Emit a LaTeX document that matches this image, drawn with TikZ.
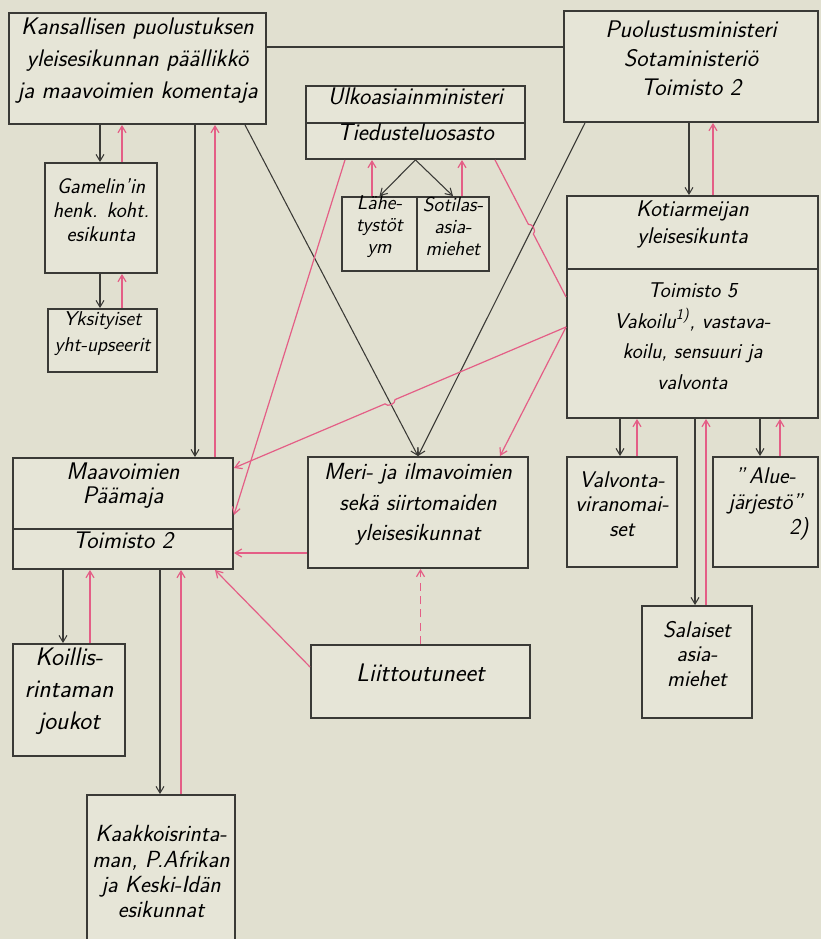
\documentclass[tikz,border=0pt]{standalone}
\usepackage{fontspec}
\usetikzlibrary{arrows.meta}
\usetikzlibrary{calc}
\usetikzlibrary{fit}
\definecolor{paper}{RGB}{225,224,208}
\definecolor{card}{RGB}{230,229,215}
\definecolor{ink}{RGB}{58,58,54}
\definecolor{rose}{RGB}{228,94,134}

\begin{document}
\begin{tikzpicture}[x=0.75pt,y=0.75pt,yscale=-1,xscale=1,
  box/.style={draw=ink, line width=1.4pt, fill=card, inner sep=0pt, align=center},
  fs/.style 2 args={font=\sffamily\itshape\fontsize{#1}{#2}\selectfont},
  down/.style={draw=ink, line width=0.8pt, -{Straight Barb[length=5pt,width=6pt]}},
  up/.style={draw=rose, line width=0.9pt, -{Straight Barb[length=5pt,width=6pt]}},
  link/.style={draw=ink, line width=0.8pt},
  rlink/.style={draw=rose, line width=0.9pt}]

\fill[paper] (0,0) rectangle (821,939);
\useasboundingbox (0,0) rectangle (821,939);

%Boxes
\node[box, fs={18}{24}, fit={(9,13) (266,124)}] (kans) {Kansallisen puolustuksen\\yleisesikunnan päällikkö\\ja maavoimien komentaja};
\node[box, fs={18}{22}, fit={(564,11) (818,122)}] (puol) {Puolustusministeri\\Sotaministeriö\\Toimisto 2};
\node[box, fs={18}{20}, fit={(306,86) (525,123)}] (ulk) {Ulkoasiainministeri};
\node[box, fs={18}{20}, fit={(306,123) (525,159)}] (tied) {Tiedusteluosasto};
\node[box, fs={15}{16.5}, fit={(342,197) (417,271)}] (lah) {Lähe-\\tystöt\\ym};
\node[box, fs={15}{16.5}, fit={(417,197) (489,271)}] (sot) {Sotilas-\\asia-\\miehet};
\node[box, fs={16}{18}, fit={(45,163) (157,273)}] (gam) {Gamelin'in\\henk. koht.\\esikunta};
\node[box, fs={15}{19}, fit={(48,309) (157,372)}] (yks) {Yksityiset\\yht-upseerit};
\node[box, fs={17}{20}, fit={(567,196) (818,269)}] (koti) {Kotiarmeijan\\yleisesikunta};
\node[box, fs={16}{23}, fit={(567,269) (818,418)}] (toim5) {Toimisto 5\\Vakoilu\textsuperscript{1)}, vastava-\\koilu, sensuuri ja\\valvonta};
\node[box, fs={18}{18}, fit={(13,458) (233,529)}] (maa) {Maavoimien\\Päämaja};
\node[box, fs={18}{20}, fit={(13,529) (233,569)}] (maa2) {Toimisto 2};
\node[box, fs={17.5}{23}, fit={(308,457) (528,568)}] (meri) {Meri- ja ilmavoimien\\sekä siirtomaiden\\yleisesikunnat};
\node[box, fs={17}{18.5}, fit={(567,457) (677,567)}] (valv) {Valvonta-\\viranomai-\\set};
\node[box, fs={17}{19}, fit={(713,457) (818,567)}] (alue) {”\,Alue-\\järjestö”\\\hspace*{50pt}2)};
\node[box, fs={17}{18.5}, fit={(642,606) (752,718)}] (sala) {Salaiset\\asia-\\miehet};
\node[box, fs={19}{20}, fit={(311,645) (530,718)}] (liit) {Liittoutuneet};
\node[box, fs={19}{24}, fit={(13,644) (125,756)}] (koil) {Koillis-\\rintaman\\joukot};
\node[box, fs={17.5}{19}, fit={(87,795) (235,965)}] (kaak) {Kaakkoisrinta-\\man, P.Afrikan\\ja Keski-Idän\\esikunnat};

%Columns and rows
\coordinate (xa) at (100,0);
\coordinate (xb) at (122,0);
\coordinate (xc) at (195,0);
\coordinate (xd) at (215,0);
\coordinate (xe) at (63,0);
\coordinate (xf) at (90,0);
\coordinate (xg) at (160,0);
\coordinate (xh) at (181,0);
\coordinate (xi) at (689,0);
\coordinate (xj) at (713,0);
\coordinate (xk) at (620,0);
\coordinate (xl) at (637,0);
\coordinate (xm) at (695,0);
\coordinate (xn) at (706,0);
\coordinate (xo) at (760,0);
\coordinate (xp) at (780,0);
\coordinate (xq) at (372,0);
\coordinate (xr) at (462,0);
\coordinate (xt) at (245,0);
\coordinate (xu) at (585,0);
\coordinate (xv) at (345,0);
\coordinate (xw) at (495,0);
\coordinate (xz) at (500,0);
\coordinate (y47) at (0,47);
\coordinate (y297) at (0,297);
\coordinate (y327) at (0,327);
\coordinate (y468) at (0,468);
\coordinate (y515) at (0,515);
\coordinate (y553) at (0,553);
\coordinate (y667) at (0,667);

%Black lines
\draw[link] (kans.east |- y47) -- (puol.west |- y47);
\draw[down] (kans.south -| xa) -- (gam.north -| xa);
\draw[down] (gam.south -| xa) -- (yks.north -| xa);
\draw[down] (kans.south -| xc) -- (maa.north -| xc);
\draw[down] (kans.south -| xt) -- (meri.north);
\draw[down] (puol.south -| xu) -- (meri.north);
\draw[down] (puol.south -| xi) -- (koti.north -| xi);
\draw[down] (tied.south) -- (lah.north);
\draw[down] (tied.south) -- (sot.north);
\draw[down] (toim5.south -| xk) -- (valv.north -| xk);
\draw[down] (toim5.south -| xm) -- (sala.north -| xm);
\draw[down] (toim5.south -| xo) -- (alue.north -| xo);
\draw[down] (maa2.south -| xe) -- (koil.north -| xe);
\draw[down] (maa2.south -| xg) -- (kaak.north -| xg);

%Red lines
\draw[up] (gam.north -| xb) -- (kans.south -| xb);
\draw[up] (yks.north -| xb) -- (gam.south -| xb);
\draw[up] (maa.north -| xd) -- (kans.south -| xd);
\draw[up] (koti.north -| xj) -- (puol.south -| xj);
\draw[up] (lah.north -| xq) -- (tied.south -| xq);
\draw[up] (sot.north -| xr) -- (tied.south -| xr);
\draw[up] (valv.north -| xl) -- (toim5.south -| xl);
\draw[up] (sala.north -| xn) -- (toim5.south -| xn);
\draw[up] (alue.north -| xp) -- (toim5.south -| xp);
\draw[up] (koil.north -| xf) -- (maa2.south -| xf);
\draw[up] (kaak.north -| xh) -- (maa2.south -| xh);
\draw[up] (meri.west |- y553) -- (maa2.east |- y553);
\draw[up] (liit.west |- y667) -- (maa2.south -| xd);
\draw[up, dash pattern=on 6pt off 4pt] (liit.north) -- (liit.north |- meri.south);
\draw[up] (tied.south -| xv) -- (maa.east |- y515);

\coordinate (kw) at (toim5.west |- y327);
\coordinate (mt) at (maa.east |- y468);
\coordinate (tw) at (tied.south -| xw);
\coordinate (kt) at (toim5.west |- y297);
\draw[up] (kw) -- ($(kw)!0.515!(mt)$) to[bend right=80] ($(kw)!0.545!(mt)$) -- (mt);
\draw[up] (kw) -- (meri.north -| xz);
\draw[rlink] (tw) -- ($(tw)!0.47!(kt)$) to[bend right=80] ($(tw)!0.54!(kt)$) -- (kt);

\end{tikzpicture}
\end{document}
